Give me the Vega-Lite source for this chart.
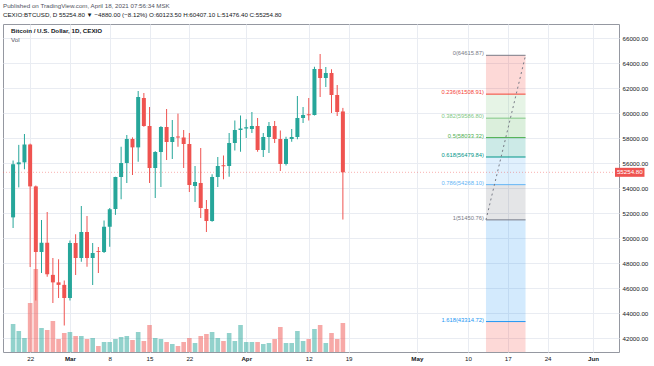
{
  "$schema": "https://vega.github.io/schema/vega-lite/v6.json",
  "width": 616,
  "height": 328,
  "autosize": {"type": "none"},
  "padding": {"left": 3, "top": 24, "right": 35, "bottom": 14},
  "background": "#ffffff",
  "title": {
    "text": "Published on TradingView.com, April 18, 2021 07:56:34 MSK",
    "subtitle": "CEXIO:BTCUSD, D  55254.80 ▼ −4880.00 (−8.12%) O:60123.50 H:60407.10 L:51476.40 C:55254.80",
    "anchor": "start",
    "frame": "group",
    "font": "Liberation Sans",
    "subtitleFont": "Liberation Sans",
    "fontSize": 6.2,
    "fontWeight": "normal",
    "color": "#50535e",
    "subtitleFontSize": 6.2,
    "subtitleColor": "#131722",
    "offset": 6,
    "subtitlePadding": 3
  },
  "config": {
    "view": {"stroke": "#9598a1", "strokeWidth": 1},
    "font": "Liberation Sans"
  },
  "datasets": {
    "candles": [
      {"date": "2021-02-19", "open": 51650, "high": 56200, "low": 50800, "close": 55900, "volume": 2800},
      {"date": "2021-02-20", "open": 55900, "high": 57450, "low": 54050, "close": 56050, "volume": 2100},
      {"date": "2021-02-21", "open": 56050, "high": 58320, "low": 55500, "close": 57480, "volume": 1400},
      {"date": "2021-02-22", "open": 57480, "high": 57550, "low": 47680, "close": 54130, "volume": 4900},
      {"date": "2021-02-23", "open": 54130, "high": 54200, "low": 45000, "close": 48880, "volume": 8300},
      {"date": "2021-02-24", "open": 48880, "high": 51440, "low": 47200, "close": 49620, "volume": 2400},
      {"date": "2021-02-25", "open": 49620, "high": 52080, "low": 46900, "close": 47100, "volume": 2200},
      {"date": "2021-02-26", "open": 47050, "high": 48400, "low": 44800, "close": 46450, "volume": 3100},
      {"date": "2021-02-27", "open": 46450, "high": 48300, "low": 45200, "close": 46250, "volume": 1300},
      {"date": "2021-02-28", "open": 46250, "high": 46600, "low": 43000, "close": 45200, "volume": 1900},
      {"date": "2021-03-01", "open": 45200, "high": 49800, "low": 45000, "close": 49600, "volume": 2000},
      {"date": "2021-03-02", "open": 49600, "high": 50300, "low": 47040, "close": 48400, "volume": 1600},
      {"date": "2021-03-03", "open": 48400, "high": 52560, "low": 48100, "close": 50480, "volume": 1600},
      {"date": "2021-03-04", "open": 50480, "high": 51760, "low": 47700, "close": 48400, "volume": 1300},
      {"date": "2021-03-05", "open": 48400, "high": 49600, "low": 46240, "close": 48800, "volume": 1400},
      {"date": "2021-03-06", "open": 48950, "high": 49280, "low": 47200, "close": 48880, "volume": 600},
      {"date": "2021-03-07", "open": 48880, "high": 51400, "low": 48800, "close": 50900, "volume": 1000},
      {"date": "2021-03-08", "open": 50900, "high": 52400, "low": 49300, "close": 52300, "volume": 1000},
      {"date": "2021-03-09", "open": 52320, "high": 54900, "low": 51850, "close": 54880, "volume": 1300},
      {"date": "2021-03-10", "open": 54880, "high": 57300, "low": 53100, "close": 56000, "volume": 1500},
      {"date": "2021-03-11", "open": 56000, "high": 58240, "low": 54400, "close": 57920, "volume": 1600},
      {"date": "2021-03-12", "open": 57920, "high": 58050, "low": 55040, "close": 57250, "volume": 1200},
      {"date": "2021-03-13", "open": 57250, "high": 61760, "low": 56100, "close": 61280, "volume": 2000},
      {"date": "2021-03-14", "open": 61200, "high": 61600, "low": 58900, "close": 58960, "volume": 1100},
      {"date": "2021-03-15", "open": 58960, "high": 60480, "low": 54400, "close": 55600, "volume": 2700},
      {"date": "2021-03-16", "open": 55600, "high": 56950, "low": 53200, "close": 56880, "volume": 1400},
      {"date": "2021-03-17", "open": 56880, "high": 58950, "low": 54080, "close": 58880, "volume": 1300},
      {"date": "2021-03-18", "open": 58880, "high": 60320, "low": 56240, "close": 57680, "volume": 1000},
      {"date": "2021-03-19", "open": 57680, "high": 59440, "low": 56320, "close": 58080, "volume": 800},
      {"date": "2021-03-20", "open": 58120, "high": 59950, "low": 57300, "close": 58040, "volume": 600},
      {"date": "2021-03-21", "open": 58040, "high": 58640, "low": 55600, "close": 57520, "volume": 1000},
      {"date": "2021-03-22", "open": 57520, "high": 58400, "low": 53680, "close": 54240, "volume": 1400},
      {"date": "2021-03-23", "open": 54160, "high": 55760, "low": 52880, "close": 54480, "volume": 900},
      {"date": "2021-03-24", "open": 54400, "high": 57200, "low": 51600, "close": 52400, "volume": 1600},
      {"date": "2021-03-25", "open": 52320, "high": 53040, "low": 50480, "close": 51360, "volume": 1800},
      {"date": "2021-03-26", "open": 51360, "high": 55100, "low": 51300, "close": 54880, "volume": 2000},
      {"date": "2021-03-27", "open": 54880, "high": 56480, "low": 54080, "close": 55760, "volume": 1400},
      {"date": "2021-03-28", "open": 55820, "high": 56600, "low": 54700, "close": 55740, "volume": 1100},
      {"date": "2021-03-29", "open": 55760, "high": 58400, "low": 54900, "close": 57600, "volume": 1900},
      {"date": "2021-03-30", "open": 57600, "high": 59400, "low": 57000, "close": 58640, "volume": 1100},
      {"date": "2021-03-31", "open": 58640, "high": 59800, "low": 56900, "close": 58760, "volume": 2700},
      {"date": "2021-04-01", "open": 58760, "high": 59500, "low": 58000, "close": 58860, "volume": 1000},
      {"date": "2021-04-02", "open": 58720, "high": 60080, "low": 58400, "close": 58960, "volume": 1000},
      {"date": "2021-04-03", "open": 58960, "high": 59600, "low": 56900, "close": 57040, "volume": 1000},
      {"date": "2021-04-04", "open": 57040, "high": 58400, "low": 56480, "close": 58080, "volume": 800},
      {"date": "2021-04-05", "open": 58080, "high": 59280, "low": 56800, "close": 58960, "volume": 900},
      {"date": "2021-04-06", "open": 58960, "high": 59360, "low": 57600, "close": 57920, "volume": 1300},
      {"date": "2021-04-07", "open": 57920, "high": 58600, "low": 55360, "close": 55920, "volume": 2500},
      {"date": "2021-04-08", "open": 55920, "high": 58100, "low": 55800, "close": 57920, "volume": 900},
      {"date": "2021-04-09", "open": 57920, "high": 58720, "low": 57700, "close": 58080, "volume": 900},
      {"date": "2021-04-10", "open": 58080, "high": 61360, "low": 57900, "close": 59600, "volume": 2100},
      {"date": "2021-04-11", "open": 59600, "high": 60480, "low": 59200, "close": 59840, "volume": 1100},
      {"date": "2021-04-12", "open": 59900, "high": 61200, "low": 59400, "close": 59820, "volume": 1300},
      {"date": "2021-04-13", "open": 59840, "high": 63700, "low": 59800, "close": 63520, "volume": 2300},
      {"date": "2021-04-14", "open": 63520, "high": 64720, "low": 61280, "close": 62800, "volume": 2700},
      {"date": "2021-04-15", "open": 62800, "high": 63680, "low": 62080, "close": 63200, "volume": 900},
      {"date": "2021-04-16", "open": 63200, "high": 63500, "low": 60000, "close": 61440, "volume": 1900},
      {"date": "2021-04-17", "open": 61440, "high": 62240, "low": 59760, "close": 60080, "volume": 1300},
      {"date": "2021-04-18", "open": 60123.5, "high": 60407.1, "low": 51476.4, "close": 55254.8, "volume": 2900}
    ],
    "fib": [
      {"level": "0", "price": 64615.87, "label": "0(64615.87)", "start": "2021-05-13T04:00:00Z", "end": "2021-05-20T03:00:00Z"},
      {"level": "0.236", "price": 61508.91, "label": "0.236(61508.91)", "start": "2021-05-13T04:00:00Z", "end": "2021-05-20T03:00:00Z"},
      {"level": "0.382", "price": 59586.80, "label": "0.382(59586.80)", "start": "2021-05-13T04:00:00Z", "end": "2021-05-20T03:00:00Z"},
      {"level": "0.5", "price": 58033.32, "label": "0.5(58033.32)", "start": "2021-05-13T04:00:00Z", "end": "2021-05-20T03:00:00Z"},
      {"level": "0.618", "price": 56479.84, "label": "0.618(56479.84)", "start": "2021-05-13T04:00:00Z", "end": "2021-05-20T03:00:00Z"},
      {"level": "0.786", "price": 54268.10, "label": "0.786(54268.10)", "start": "2021-05-13T04:00:00Z", "end": "2021-05-20T03:00:00Z"},
      {"level": "1", "price": 51450.76, "label": "1(51450.76)", "start": "2021-05-13T04:00:00Z", "end": "2021-05-20T03:00:00Z"},
      {"level": "1.618", "price": 43314.72, "label": "1.618(43314.72)", "start": "2021-05-13T04:00:00Z", "end": "2021-05-20T03:00:00Z"}
    ],
    "zones": [
      {"level": "0.236", "top": 64615.87, "bottom": 61508.91, "start": "2021-05-13T04:00:00Z", "end": "2021-05-20T03:00:00Z"},
      {"level": "0.382", "top": 61508.91, "bottom": 59586.80, "start": "2021-05-13T04:00:00Z", "end": "2021-05-20T03:00:00Z"},
      {"level": "0.5", "top": 59586.80, "bottom": 58033.32, "start": "2021-05-13T04:00:00Z", "end": "2021-05-20T03:00:00Z"},
      {"level": "0.618", "top": 58033.32, "bottom": 56479.84, "start": "2021-05-13T04:00:00Z", "end": "2021-05-20T03:00:00Z"},
      {"level": "0.786", "top": 56479.84, "bottom": 54268.10, "start": "2021-05-13T04:00:00Z", "end": "2021-05-20T03:00:00Z"},
      {"level": "1", "top": 54268.10, "bottom": 51450.76, "start": "2021-05-13T04:00:00Z", "end": "2021-05-20T03:00:00Z"},
      {"level": "1.618", "top": 51450.76, "bottom": 43314.72, "start": "2021-05-13T04:00:00Z", "end": "2021-05-20T03:00:00Z"},
      {"level": "2.618", "top": 43314.72, "bottom": 30149.61, "start": "2021-05-13T04:00:00Z", "end": "2021-05-20T03:00:00Z"}
    ],
    "trend": [
      {"start": "2021-05-13T04:00:00Z", "end": "2021-05-20T03:00:00Z", "from": 51450.76, "to": 64615.87}
    ]
  },
  "resolve": {"scale": {"y": "independent"}, "axis": {"y": "independent"}},
  "layer": [
    {
      "data": {"name": "candles"},
      "mark": {"type": "bar", "size": 4.6, "opacity": 0.5},
      "encoding": {
        "x": {
          "field": "date", "type": "temporal", "title": null,
          "scale": {"type": "utc", "domain": [1613615600000, 1622823600000]},
          "axis": {
            "values": [
              {"year": 2021, "month": 2, "date": 22, "utc": true},
              {"year": 2021, "month": 3, "date": 1, "utc": true},
              {"year": 2021, "month": 3, "date": 8, "utc": true},
              {"year": 2021, "month": 3, "date": 15, "utc": true},
              {"year": 2021, "month": 3, "date": 22, "utc": true},
              {"year": 2021, "month": 4, "date": 1, "utc": true},
              {"year": 2021, "month": 4, "date": 12, "utc": true},
              {"year": 2021, "month": 4, "date": 19, "utc": true},
              {"year": 2021, "month": 5, "date": 1, "utc": true},
              {"year": 2021, "month": 5, "date": 10, "utc": true},
              {"year": 2021, "month": 5, "date": 17, "utc": true},
              {"year": 2021, "month": 5, "date": 24, "utc": true},
              {"year": 2021, "month": 6, "date": 1, "utc": true}
            ],
            "labelExpr": "utcdate(datum.value) == 1 ? utcFormat(datum.value, '%b') : utcFormat(datum.value, '%-d')",
            "labelFontSize": 6.2,
            "labelColor": "#131722",
            "labelFontWeight": {"condition": {"test": "utcdate(datum.value) == 1", "value": "bold"}, "value": "normal"},
            "ticks": false,
            "domain": false,
            "labelPadding": 3,
            "labelFlush": false,
            "labelOverlap": false,
            "grid": true,
            "gridColor": "#e9ecf2"
          }
        },
        "y": {"field": "volume", "type": "quantitative", "scale": {"domain": [0, 32800]}, "axis": null},
        "color": {"condition": {"test": "datum.close >= datum.open", "value": "#26a69a"}, "value": "#ef5350"}
      }
    },
    {
      "data": {"name": "zones"},
      "mark": {"type": "rect", "clip": true, "opacity": 0.2},
      "encoding": {
        "x": {"field": "start", "type": "temporal", "title": null, "scale": {"type": "utc", "domain": [1613615600000, 1622823600000]}},
        "x2": {"field": "end"},
        "y": {"field": "top", "type": "quantitative", "scale": {"domain": [40880, 67120]}, "axis": null},
        "y2": {"field": "bottom"},
        "color": {
          "field": "level", "type": "nominal", "legend": null,
          "scale": {
            "domain": ["0", "0.236", "0.382", "0.5", "0.618", "0.786", "1", "1.618", "2.618"],
            "range": ["#787b86", "#f44336", "#81c784", "#4caf50", "#009688", "#64b5f6", "#787b86", "#2196f3", "#f44336"]
          }
        }
      }
    },
    {
      "data": {"name": "fib"},
      "mark": {"type": "rule", "strokeWidth": 1},
      "encoding": {
        "x": {"field": "start", "type": "temporal", "title": null, "scale": {"type": "utc", "domain": [1613615600000, 1622823600000]}},
        "x2": {"field": "end"},
        "y": {"field": "price", "type": "quantitative", "scale": {"domain": [40880, 67120]}, "axis": null},
        "color": {"field": "level", "type": "nominal", "legend": null}
      }
    },
    {
      "data": {"name": "trend"},
      "mark": {"type": "rule", "strokeWidth": 1, "strokeDash": [2, 3], "color": "#787b86"},
      "encoding": {
        "x": {"field": "start", "type": "temporal", "title": null, "scale": {"type": "utc", "domain": [1613615600000, 1622823600000]}},
        "x2": {"field": "end"},
        "y": {"field": "from", "type": "quantitative", "scale": {"domain": [40880, 67120]}, "axis": null},
        "y2": {"field": "to"}
      }
    },
    {
      "data": {"name": "fib"},
      "mark": {"type": "text", "align": "right", "baseline": "bottom", "dx": -2, "dy": 1, "fontSize": 5.8},
      "encoding": {
        "x": {"field": "start", "type": "temporal", "title": null, "scale": {"type": "utc", "domain": [1613615600000, 1622823600000]}},
        "y": {"field": "price", "type": "quantitative", "scale": {"domain": [40880, 67120]}, "axis": null},
        "text": {"field": "label"},
        "color": {"field": "level", "type": "nominal", "legend": null}
      }
    },
    {
      "data": {"values": [{"price": 55254.8}]},
      "mark": {"type": "rule", "color": "#ef5350", "strokeDash": [1, 2], "opacity": 0.45, "strokeWidth": 1},
      "encoding": {
        "y": {"field": "price", "type": "quantitative", "scale": {"domain": [40880, 67120]}, "axis": null}
      }
    },
    {
      "data": {"name": "candles"},
      "mark": {"type": "rule", "strokeWidth": 1},
      "encoding": {
        "x": {"field": "date", "type": "temporal", "title": null, "scale": {"type": "utc", "domain": [1613615600000, 1622823600000]}},
        "y": {
          "field": "low", "type": "quantitative", "title": null,
          "scale": {"domain": [40880, 67120]},
          "axis": {
            "orient": "right",
            "values": [42000, 44000, 46000, 48000, 50000, 52000, 54000, 56000, 58000, 60000, 62000, 64000, 66000],
            "format": ".2f",
            "labelFontSize": 6.2,
            "labelColor": "#131722",
            "ticks": false,
            "domain": false,
            "labelPadding": 3,
            "labelFlush": false,
            "labelOverlap": false,
            "grid": true,
            "gridColor": "#e9ecf2"
          }
        },
        "y2": {"field": "high"},
        "color": {"condition": {"test": "datum.close >= datum.open", "value": "#26a69a"}, "value": "#ef5350"}
      }
    },
    {
      "data": {"name": "candles"},
      "mark": {"type": "bar", "size": 4},
      "encoding": {
        "x": {"field": "date", "type": "temporal", "title": null, "scale": {"type": "utc", "domain": [1613615600000, 1622823600000]}},
        "y": {"field": "open", "type": "quantitative", "scale": {"domain": [40880, 67120]}, "axis": null},
        "y2": {"field": "close"},
        "color": {"condition": {"test": "datum.close >= datum.open", "value": "#26a69a"}, "value": "#ef5350"}
      }
    },
    {
      "data": {"values": [{"price": 55254.8}]},
      "mark": {"type": "rect", "color": "#ef5350"},
      "encoding": {
        "x": {"datum": {"year": 2021, "month": 6, "date": 4, "hours": 20, "minutes": 30, "utc": true}, "type": "temporal", "scale": {"type": "utc", "domain": [1613615600000, 1622823600000]}},
        "x2": {"datum": {"year": 2021, "month": 6, "date": 10, "hours": 1, "utc": true}},
        "y": {"datum": 55615, "type": "quantitative", "scale": {"domain": [40880, 67120]}, "axis": null},
        "y2": {"datum": 54895}
      }
    },
    {
      "data": {"values": [{"price": 55254.8, "label": "55254.80"}]},
      "mark": {"type": "text", "color": "#ffffff", "fontSize": 6.2, "align": "center", "baseline": "middle"},
      "encoding": {
        "x": {"datum": {"year": 2021, "month": 6, "date": 7, "hours": 11, "utc": true}, "type": "temporal", "scale": {"type": "utc", "domain": [1613615600000, 1622823600000]}},
        "y": {"field": "price", "type": "quantitative", "scale": {"domain": [40880, 67120]}, "axis": null},
        "text": {"field": "label"}
      }
    },
    {
      "data": {"values": [{"label": "Bitcoin / U.S. Dollar, 1D, CEXIO", "pos": 66560}]},
      "mark": {"type": "text", "color": "#131722", "fontSize": 6.2, "fontWeight": "bold", "align": "left", "baseline": "middle", "dx": 3},
      "encoding": {
        "x": {"datum": 1613615600000, "type": "temporal", "scale": {"type": "utc", "domain": [1613615600000, 1622823600000]}},
        "y": {"field": "pos", "type": "quantitative", "scale": {"domain": [40880, 67120]}, "axis": null},
        "text": {"field": "label"}
      }
    },
    {
      "data": {"values": [{"label": "Vol", "pos": 65840}]},
      "mark": {"type": "text", "color": "#50535e", "fontSize": 6.2, "align": "left", "baseline": "middle", "dx": 3},
      "encoding": {
        "x": {"datum": 1613615600000, "type": "temporal", "scale": {"type": "utc", "domain": [1613615600000, 1622823600000]}},
        "y": {"field": "pos", "type": "quantitative", "scale": {"domain": [40880, 67120]}, "axis": null},
        "text": {"field": "label"}
      }
    }
  ]
}
